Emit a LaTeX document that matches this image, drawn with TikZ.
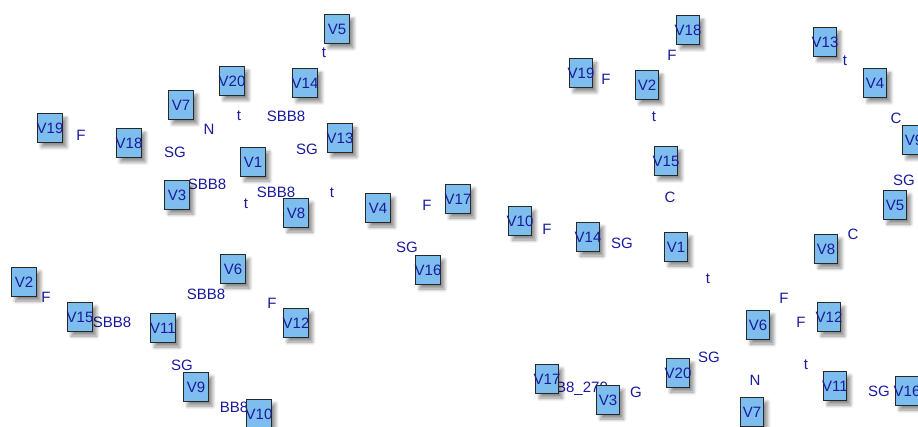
\documentclass[tikz,border=0pt]{standalone}
\usepackage{fontspec}
\setmainfont{Liberation Sans}
\usetikzlibrary{shadows.blur}
\definecolor{vfill}{RGB}{125,190,238}
\definecolor{vtext}{RGB}{26,26,155}
\definecolor{vline}{RGB}{40,40,40}
\tikzset{
  vbox/.style={rectangle, draw=vline, line width=0.9pt, fill=vfill, inner sep=0pt,
    minimum width=25pt, minimum height=29pt, text=vtext,
    font=\fontsize{15}{15}\selectfont,
    blur shadow={shadow xshift=4pt, shadow yshift=-4.5pt, shadow blur steps=7, shadow blur radius=3.5pt, shadow opacity=45}},
  vboxr/.style={vbox, minimum width=23pt},
  elab/.style={inner sep=0pt, text=vtext, font=\fontsize{15}{15}\selectfont}
}
\newcommand{\vt}[1]{\makebox[0pt]{#1}}
\begin{document}
\begin{tikzpicture}[x=1pt,y=-1pt]
\useasboundingbox (0,0) rectangle (918,427);
% ---- left graph: edge labels
\node[elab] (la1) at (324,53) {t};
\node[elab] (la2) at (239,116) {t};
\node[elab] (la3) at (286,116) {SBB8};
\node[elab] (la4) at (209,129) {N};
\node[elab] (la5) at (81,135) {F};
\node[elab] (la6) at (175,152) {SG};
\node[elab] (la7) at (307,149) {SG};
\node[elab] (la8) at (207,184) {SBB8};
\node[elab] (la9) at (276,192) {SBB8};
\node[elab] (la10) at (332,193) {t};
\node[elab] (la11) at (246,204) {t};
\node[elab] (la12) at (427,205) {F};
\node[elab] (la13) at (407,247) {SG};
\node[elab] (la14) at (46,297) {F};
\node[elab] (la15) at (206,294) {SBB8};
\node[elab] (la16) at (272,303) {F};
\node[elab] (la17) at (112,322) {SBB8};
\node[elab] (la18) at (182,365) {SG};
\node[elab] (la19) at (234,407) {BB8};
% ---- right graph: edge labels
\node[elab] (lb1) at (672,55) {F};
\node[elab] (lb2) at (606,79) {F};
\node[elab] (lb3) at (654,117) {t};
\node[elab] (lb4) at (670,197) {C};
\node[elab] (lb5) at (845,61) {t};
\node[elab] (lb6) at (896,118) {C};
\node[elab] (lb7) at (904,180) {SG};
\node[elab] (lb8) at (547,229) {F};
\node[elab] (lb9) at (622,243) {SG};
\node[elab] (lb10) at (708,279) {t};
\node[elab] (lb11) at (853,234) {C};
\node[elab] (lb12) at (784,298) {F};
\node[elab] (lb13) at (801,322) {F};
\node[elab] (lb14) at (709,357) {SG};
\node[elab] (lb15) at (755,380) {N};
\node[elab] (lb16) at (806,365) {t};
\node[elab] (lb17) at (879,391) {SG};
\node[elab] (lb18) at (572,389) {SBB8\_270};
\node[elab] (lb19) at (636,392) {G};
% ---- left graph: vertices
\node[vbox] (a5) at (337,29) {\vt{V5}};
\node[vbox] (a20) at (232,81) {\vt{V20}};
\node[vbox] (a14) at (305,83) {\vt{V14}};
\node[vbox] (a7) at (181,105) {\vt{V7}};
\node[vbox] (a19) at (50,128) {\vt{V19}};
\node[vbox] (a18) at (129,143) {\vt{V18}};
\node[vbox] (a13) at (340,138) {\vt{V13}};
\node[vbox] (a1) at (253,162) {\vt{V1}};
\node[vbox] (a3) at (177,195) {\vt{V3}};
\node[vbox] (a8) at (296,213) {\vt{V8}};
\node[vbox] (a4) at (378,208) {\vt{V4}};
\node[vbox] (a17) at (458,199) {\vt{V17}};
\node[vbox] (a16) at (428,270) {\vt{V16}};
\node[vbox] (a6) at (233,269) {\vt{V6}};
\node[vbox] (a2) at (24,282) {\vt{V2}};
\node[vbox] (a15) at (80,317) {\vt{V15}};
\node[vbox] (a11) at (163,328) {\vt{V11}};
\node[vbox] (a12) at (296,323) {\vt{V12}};
\node[vbox] (a9) at (196,387) {\vt{V9}};
\node[vbox] (a10) at (259,414) {\vt{V10}};
% ---- right graph: vertices
\node[vboxr] (b18) at (688,30) {\vt{V18}};
\node[vboxr] (b19) at (581,73) {\vt{V19}};
\node[vboxr] (b2) at (647,85) {\vt{V2}};
\node[vboxr] (b15) at (666,161) {\vt{V15}};
\node[vboxr] (b13) at (825,42) {\vt{V13}};
\node[vboxr] (b4) at (875,83) {\vt{V4}};
\node[vboxr] (b9) at (914,140) {\vt{V9}};
\node[vboxr] (b5) at (895,205) {\vt{V5}};
\node[vboxr] (b10) at (520,221) {\vt{V10}};
\node[vboxr] (b14) at (588,237) {\vt{V14}};
\node[vboxr] (b1) at (676,247) {\vt{V1}};
\node[vboxr] (b8) at (826,249) {\vt{V8}};
\node[vboxr] (b12) at (829,317) {\vt{V12}};
\node[vboxr] (b6) at (758,325) {\vt{V6}};
\node[vboxr] (b20) at (678,373) {\vt{V20}};
\node[vboxr] (b11) at (835,386) {\vt{V11}};
\node[vboxr] (b16) at (907,391) {\vt{V16}};
\node[vboxr] (b17) at (547,379) {\vt{V17}};
\node[vboxr] (b3) at (608,400) {\vt{V3}};
\node[vboxr] (b7) at (752,412) {\vt{V7}};
\end{tikzpicture}
\end{document}
